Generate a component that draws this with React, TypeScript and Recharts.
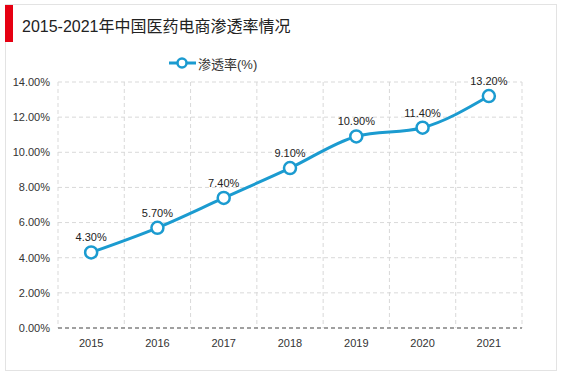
import { LineChart, Line, XAxis, YAxis, CartesianGrid, LabelList } from 'recharts';

const years = ['2015', '2016', '2017', '2018', '2019', '2020', '2021'];
const penetration = [4.3, 5.7, 7.4, 9.1, 10.9, 11.4, 13.2];
const yTicks = [0, 2, 4, 6, 8, 10, 12, 14];

const data = years.map((year, i) => ({ year, rate: penetration[i] }));

const BLUE = '#1b9bd0';
const FONT = '"Liberation Sans", Arial, "Noto Sans CJK SC", sans-serif';

export default function App() {
  return (
    <div style={{ position: 'fixed', left: 0, top: 0, width: 567, height: 378, background: '#fff', fontFamily: FONT }}>
      <div
        style={{
          position: 'absolute',
          left: 5,
          top: 4,
          width: 552,
          height: 367,
          border: '1px solid #e3e3e3',
          boxSizing: 'border-box',
        }}
      />
      <div style={{ position: 'absolute', left: 5, top: 5, width: 8, height: 37, background: '#e60012' }} />
      <div style={{ position: 'absolute', left: 22, top: 15, fontSize: 16, lineHeight: '24px', color: '#222', whiteSpace: 'nowrap' }}>
        2015-2021年中国医药电商渗透率情况
      </div>
      <div style={{ position: 'absolute', left: 169, top: 54, height: 18, display: 'flex', alignItems: 'center' }}>
        <svg width={27} height={14}>
          <line x1={0} y1={7} x2={27} y2={7} stroke={BLUE} strokeWidth={3} />
          <circle cx={13} cy={7} r={4.5} fill="#fff" stroke={BLUE} strokeWidth={2.5} />
        </svg>
        <span style={{ marginLeft: 2, fontSize: 13, color: '#333' }}>渗透率(%)</span>
      </div>
      <div style={{ position: 'absolute', left: 0, top: 0 }}>
        <LineChart width={567} height={378} data={data} margin={{ top: 82, right: 45, bottom: 18, left: 0 }}>
          <CartesianGrid
            stroke="#d9d9d9"
            strokeDasharray="4 3"
            verticalCoordinatesGenerator={({ offset }: any) => {
              const step = offset.width / years.length;
              return years.map((_, i) => offset.left + step * i).concat(offset.left + offset.width);
            }}
          />
          <XAxis
            dataKey="year"
            scale="band"
            height={32}
            tickLine={false}
            tickMargin={5}
            axisLine={{ stroke: '#555', strokeDasharray: '4 3' }}
            tick={{ fontSize: 11, fill: '#333', fontFamily: FONT }}
          />
          <YAxis
            width={58}
            domain={[0, 14]}
            ticks={yTicks}
            tickLine={false}
            axisLine={false}
            tickFormatter={(v: number) => v.toFixed(2) + '%'}
            tick={{ fontSize: 11, fill: '#333', fontFamily: FONT }}
          />
          <Line
            type="monotone"
            dataKey="rate"
            stroke={BLUE}
            strokeWidth={3}
            dot={{ r: 6, fill: '#fff', stroke: BLUE, strokeWidth: 2.5 }}
            activeDot={false}
            isAnimationActive={false}
          >
            <LabelList
              dataKey="rate"
              position="top"
              offset={11}
              formatter={(v: any) => Number(v).toFixed(2) + '%'}
              style={{ fontSize: 11, fill: '#222', fontFamily: FONT }}
            />
          </Line>
        </LineChart>
      </div>
    </div>
  );
}
